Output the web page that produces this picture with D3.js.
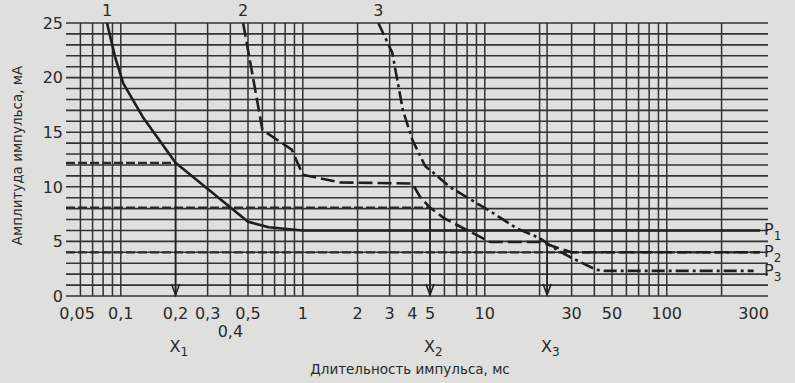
<!DOCTYPE html>
<html>
<head>
<meta charset="utf-8">
<script src="https://cdn.jsdelivr.net/npm/d3@7/dist/d3.min.js"></script>
<style>
  html, body { margin: 0; padding: 0; background: #dfdfdd; }
  svg { display: block; }
  text { font-family: "DejaVu Sans", "Liberation Sans", sans-serif; fill: #2a2a2a; }
</style>
</head>
<body>
<script>
// Pulse duration (ms) vs pulse amplitude (mA) for three threshold curves
const curve1 = [[0.084, 25], [0.093, 21.9], [0.103, 19.5], [0.132, 16.4], [0.2, 12.2], [0.5, 6.8], [0.65, 6.3], [1.0, 6.0], [325, 6.0]];
const curve2 = [[0.47, 25], [0.53, 20.2], [0.6, 15.2], [0.87, 13.4], [1.0, 11.1], [1.6, 10.4], [4.0, 10.3], [4.4, 9.1], [5, 8.1], [6, 7.1], [10.7, 4.95], [20, 4.95], [30, 4.0], [325, 4.0]];
const curve3 = [[2.6, 25], [3.1, 22.3], [3.55, 17.0], [4.0, 14.3], [4.7, 11.9], [5.2, 11.3], [6.4, 10.0], [11.1, 7.6], [15, 6.2], [20, 5.3], [25, 4.2], [30, 3.5], [41, 2.4], [46, 2.3], [300, 2.3]];

// Horizontal reference levels and the read-off arrows
const refLevels = [{ y: 12.2, xEnd: 0.2 }, { y: 8.1, xEnd: 5 }, { y: 4.0, xEnd: 325 }];
const arrows = [{ x: 0.2, y: 12.2, name: "X", sub: "1" }, { x: 5, y: 8.1, name: "X", sub: "2" }, { x: 22, y: 5.0, name: "X", sub: "3" }];

// Axis ticks and grid
const xTickLabels = [[0.05, "0,05"], [0.1, "0,1"], [0.2, "0,2"], [0.3, "0,3"], [0.5, "0,5"], [1, "1"], [2, "2"], [3, "3"], [4, "4"], [5, "5"], [10, "10"], [30, "30"], [50, "50"], [100, "100"], [300, "300"]];
const xLowLabels = [[0.4, "0,4"]];
const xGrid = [0.06, 0.07, 0.08, 0.09, 0.1, 0.2, 0.3, 0.4, 0.5, 0.6, 0.7, 0.8, 0.9, 1, 2, 3, 4, 5, 6, 7, 8, 9, 10, 20, 22, 30, 40, 50, 60, 70, 80, 90, 100, 200];
const yTicks = [0, 5, 10, 15, 20, 25];
const yGrid = d3.range(0, 26, 1);
const curveNames = [{ x: 0.084, name: "1" }, { x: 0.47, name: "2" }, { x: 2.6, name: "3" }];
const endLabels = [{ y: 6.0, sub: "1" }, { y: 4.0, sub: "2" }, { y: 2.3, sub: "3" }];

const W = 795, H = 383;
const xMin = 0.05, xMax = 300, xGridEnd = 360;

const svg = d3.select("body").append("svg").attr("width", W).attr("height", H);

const x = d3.scaleLog().domain([xMin, xMax]).range([66, 66 + 182 * Math.log10(xMax / xMin)]);
const y = d3.scaleLinear().domain([0, 25]).range([296, 23]);

const gridColor = "#333";

// grid
const grid = svg.append("g");
grid.selectAll(".hg").data(yGrid).join("line")
  .attr("x1", x(xMin)).attr("x2", x(xGridEnd))
  .attr("y1", d => y(d)).attr("y2", d => y(d))
  .attr("stroke", gridColor).attr("stroke-width", 1.6);
grid.selectAll(".vg").data(xGrid).join("line")
  .attr("x1", d => x(d)).attr("x2", d => x(d))
  .attr("y1", y(0)).attr("y2", y(25))
  .attr("stroke", gridColor).attr("stroke-width", 1.5);

// y tick labels
svg.append("g").selectAll("text").data(yTicks).join("text")
  .attr("x", 63).attr("y", d => y(d)).attr("dy", "0.36em")
  .attr("text-anchor", "end").attr("font-size", 16)
  .text(d => d);

// x tick labels
svg.append("g").selectAll("text").data(xTickLabels).join("text")
  .attr("x", d => d[0] === xMin ? x(d[0]) + 11 : x(d[0]))
  .attr("y", 319).attr("text-anchor", "middle").attr("font-size", 16)
  .text(d => d[1]);
svg.append("g").selectAll("text").data(xLowLabels).join("text")
  .attr("x", d => x(d[0])).attr("y", 337).attr("text-anchor", "middle").attr("font-size", 16)
  .text(d => d[1]);

// axis titles
svg.append("text")
  .attr("transform", `translate(22, ${y(12.5) - 4}) rotate(-90)`)
  .attr("text-anchor", "middle").attr("font-size", 13.5)
  .text("Амплитуда импульса, мА");
svg.append("text")
  .attr("x", 410).attr("y", 374).attr("text-anchor", "middle").attr("font-size", 13.5)
  .text("Длительность импульса, мс");

// reference levels
svg.append("g").selectAll("line").data(refLevels).join("line")
  .attr("x1", x(xMin)).attr("x2", d => x(d.xEnd))
  .attr("y1", d => y(d.y)).attr("y2", d => y(d.y))
  .attr("stroke", "#2a2a2a").attr("stroke-width", 2.2)
  .attr("stroke-dasharray", "9,3");

// read-off arrows
const ag = svg.append("g");
ag.selectAll("line").data(arrows).join("line")
  .attr("x1", d => x(d.x)).attr("x2", d => x(d.x))
  .attr("y1", d => y(d.y)).attr("y2", y(0) - 1)
  .attr("stroke", "#222").attr("stroke-width", 1.6);
ag.selectAll("path").data(arrows).join("path")
  .attr("d", d => {
    const cx = x(d.x), by = y(0) - 1;
    return `M${cx - 4},${by - 11} L${cx},${by} L${cx + 4},${by - 11}`;
  })
  .attr("fill", "none").attr("stroke", "#222").attr("stroke-width", 1.6);
const al = ag.selectAll("text").data(arrows).join("text")
  .attr("x", d => x(d.x) - 6).attr("y", 352).attr("font-size", 16);
al.append("tspan").text(d => d.name);
al.append("tspan").attr("dy", 4).attr("font-size", 12).text(d => d.sub);

// curves
const line = d3.line().x(d => x(d[0])).y(d => y(d[1]));
const curveStyles = [
  { data: curve1, dash: null },
  { data: curve2, dash: "14,5" },
  { data: curve3, dash: "13,4,3,4" }
];
svg.append("g").selectAll("path").data(curveStyles).join("path")
  .attr("d", d => line(d.data))
  .attr("fill", "none").attr("stroke", "#1e1e1e").attr("stroke-width", 2.6)
  .attr("stroke-linejoin", "round")
  .attr("stroke-dasharray", d => d.dash);

// curve numbers
svg.append("g").selectAll("text").data(curveNames).join("text")
  .attr("x", d => x(d.x)).attr("y", 16).attr("text-anchor", "middle")
  .attr("font-size", 16)
  .text(d => d.name);

// end labels P1..P3
const el = svg.append("g").selectAll("text").data(endLabels).join("text")
  .attr("x", 764).attr("y", d => y(d.y) + 5).attr("font-size", 16);
el.append("tspan").text("P");
el.append("tspan").attr("dy", 5).attr("font-size", 12).text(d => d.sub);
</script>
</body>
</html>
